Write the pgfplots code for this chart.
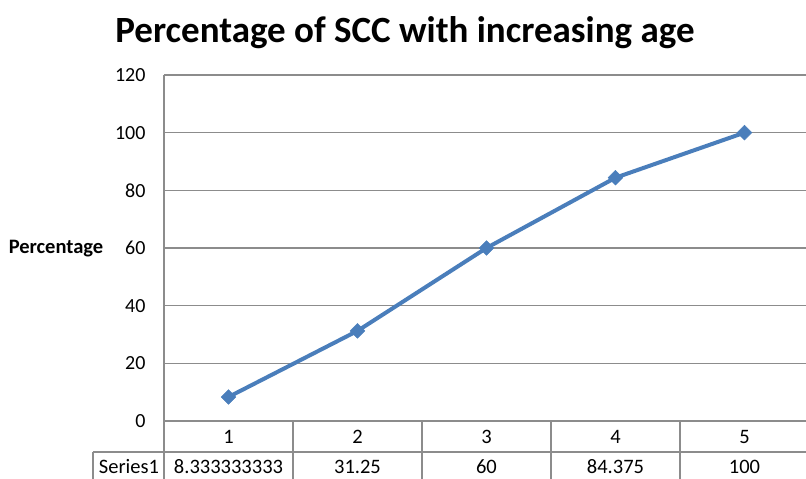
\documentclass[border=0pt]{standalone}
\usepackage{pgfplots}
\pgfplotsset{compat=1.18}
\usepackage{fontspec}
\setmainfont{Carlito}
\definecolor{linec}{HTML}{4A7EBB}
\definecolor{gridc}{HTML}{8C8C8C}
\tikzset{tabc/.style={font=\fontsize{20.5}{24}\selectfont}}
\begin{document}
\begin{tikzpicture}[x=1pt,y=1pt]
\path[use as bounding box, clip] (0,0) rectangle (806,479);
\node[font=\fontsize{37}{42}\selectfont\bfseries] at (405,446) {Percentage of SCC with increasing age};
\node[font=\fontsize{20.5}{24}\selectfont\bfseries] at (56,230) {Percentage};
\begin{axis}[
  at={(164pt,58pt)}, anchor=south west,
  scale only axis, width=642pt, height=346pt,
  xmin=0.5, xmax=5.477, ymin=0, ymax=120,
  ytick={0,20,...,120}, xtick=\empty,
  ymajorgrids, grid style={gridc, line width=1.3pt},
  axis x line*=bottom, axis y line*=left,
  axis line style={gridc, line width=1.3pt, -},
  major tick length=0pt,
  yticklabel style={font=\fontsize{20}{24}\selectfont, xshift=-15pt},
  /pgf/number format/assume math mode=true,
  clip=false,
]
\addplot[linec, line width=4pt, mark=square*, mark size=5.2pt,
  mark options={fill=linec, draw=linec, line width=0.5pt, rotate=45}]
  coordinates {(1,8.333333333) (2,31.25) (3,60) (4,84.375) (5,100)};
% data table
\draw[gridc, line width=1.3pt] (axis cs:0.5,0) -- ++(0pt,-60pt);
\draw[gridc, line width=1.3pt] (axis cs:1.5,0) -- ++(0pt,-60pt);
\draw[gridc, line width=1.3pt] (axis cs:2.5,0) -- ++(0pt,-60pt);
\draw[gridc, line width=1.3pt] (axis cs:3.5,0) -- ++(0pt,-60pt);
\draw[gridc, line width=1.3pt] (axis cs:4.5,0) -- ++(0pt,-60pt);
\draw[gridc, line width=1.3pt] (axis cs:0.5,0) ++(-71pt,-31pt) -- ++(720pt,0pt);
\draw[gridc, line width=1.3pt] (axis cs:0.5,0) ++(-71pt,-31pt) -- ++(0pt,-30pt);
\node[tabc] at (axis cs:1,0) [yshift=-16pt] {1};
\node[tabc] at (axis cs:2,0) [yshift=-16pt] {2};
\node[tabc] at (axis cs:3,0) [yshift=-16pt] {3};
\node[tabc] at (axis cs:4,0) [yshift=-16pt] {4};
\node[tabc] at (axis cs:5,0) [yshift=-16pt] {5};
\node[tabc] at (axis cs:1,0) [yshift=-46pt] {8.333333333};
\node[tabc] at (axis cs:2,0) [yshift=-46pt] {31.25};
\node[tabc] at (axis cs:3,0) [yshift=-46pt] {60};
\node[tabc] at (axis cs:4,0) [yshift=-46pt] {84.375};
\node[tabc] at (axis cs:5,0) [yshift=-46pt] {100};
\node[tabc] at (axis cs:0.5,0) [xshift=-35pt, yshift=-46pt] {Series1};
\end{axis}
\end{tikzpicture}
\end{document}
